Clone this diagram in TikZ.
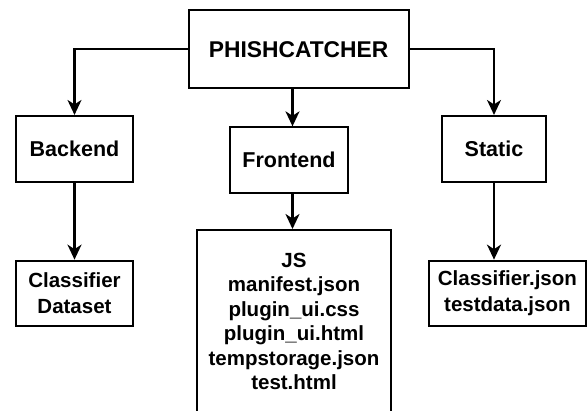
\documentclass[tikz,border=0pt]{standalone}
\usepackage{fontspec}
\setmainfont{Liberation Sans}
\usetikzlibrary{arrows.meta,positioning}
\tikzset{>={Stealth[length=15pt,width=14pt,inset=4.5pt]}}

\begin{document}
\begin{tikzpicture}[x=1pt,y=-1pt,
                    box/.style={draw, line width=2pt, align=center, inner sep=0pt},
                    title/.style={font=\fontsize{22.8}{27}\selectfont\bfseries},
                    folder/.style={font=\fontsize{21.5}{26}\selectfont\bfseries},
                    pair/.style={font=\fontsize{20.5}{26.7}\selectfont\bfseries},
                    files/.style={font=\fontsize{20.5}{24.5}\selectfont\bfseries},
                    link/.style={line width=2.2pt, ->},
                   ]

\useasboundingbox (0,0) rectangle (588,411);
\clip (0,0) rectangle (588,411);

% top level
\node[box, title, minimum width=220pt, minimum height=78.3pt] (root) at (298.6,49.2) {PHISHCATCHER};

% folders
\node[box, folder, minimum width=117pt, minimum height=65.7pt] (backend) at (74.5,148.8) {Backend};
\node[box, folder, minimum width=117.5pt, minimum height=65.3pt] (frontend) at (289,160) {Frontend};
\node[box, folder, minimum width=104.5pt, minimum height=65.7pt] (static) at (494,148.8) {Static};

% contents
\node[box, pair, minimum width=117pt, minimum height=65.3pt] (dataset) at (74.5,293.3) {Classifier\\Dataset};
\node[box, files, minimum width=194pt, minimum height=183pt] (js) at (294,321.5)
  {JS\\manifest.json\\plugin\_ui.css\\plugin\_ui.html\\tempstorage.json\\test.html};
\node[box, pair, minimum width=156.5pt, minimum height=65.3pt] (json) at (507.4,293.3) {Classifier.json\\testdata.json};

\coordinate (fe) at (292.5,0);

\draw[link] (root.west) -| (backend.north);
\draw[link] (root.east) -| (static.north);
\draw[link] (fe |- root.south) -- (fe |- frontend.north);

\draw[link] (backend.south) -- (dataset.north);
\draw[link] (fe |- frontend.south) -- (fe |- js.north);
\draw[link] (static.south) -- (static.south |- json.north);

\end{tikzpicture}
\end{document}
